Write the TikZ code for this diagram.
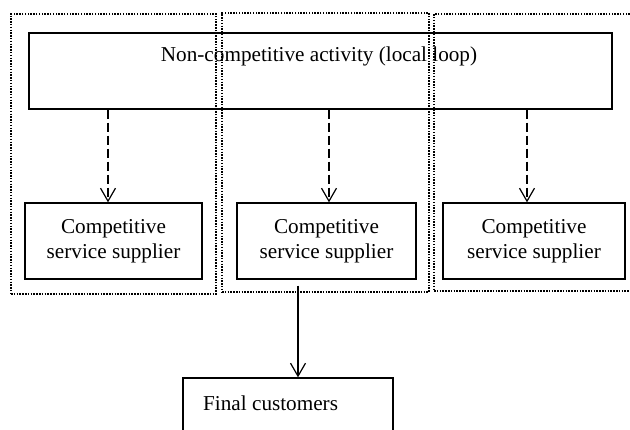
\documentclass[tikz,border=0pt]{standalone}
\usepackage{fontspec}
\setmainfont{Liberation Serif}
\usetikzlibrary{arrows.meta,calc}
\begin{document}
\begin{tikzpicture}[x=1pt,y=-1pt,
  font=\fontsize{21.2}{25}\selectfont,
  box/.style={draw=black,line width=1.3pt,fill=white,inner sep=0pt},
  txt/.style={inner sep=0pt,align=center},
  zone/.style={draw=black,line width=1.5pt,dash pattern=on 1.5pt off 1.3pt,inner sep=0pt},
  dasharrow/.style={line width=1.2pt,dash pattern=on 9pt off 4pt,-{Straight Barb[length=13pt,width=15pt,line width=1.2pt]}},
  solidarrow/.style={line width=1.2pt,-{Straight Barb[length=13pt,width=15pt,line width=1.2pt]}}]
\useasboundingbox (0,0) rectangle (630,430);
\clip (0,0) rectangle (630,430);
\fill[white] (0,0) rectangle (630,430);
% top box
\node[box,minimum width=583pt,minimum height=76pt] (loop) at (320.5,71) {};
\node[txt] (looptext) at (319,56) {Non-competitive activity (local loop)};
% competitive boxes
\node[box,minimum width=177pt,minimum height=76pt,txt,draw] (s1) at (113.5,241) {Competitive\\service supplier};
\node[box,minimum width=179pt,minimum height=76pt,txt,draw] (s2) at (326.5,241) {Competitive\\service supplier};
\node[box,minimum width=182pt,minimum height=76pt,txt,draw] (s3) at (534,241) {Competitive\\service supplier};
% final box
\node[box,minimum width=210pt,minimum height=80pt] (final) at (288,418) {};
\node[txt,anchor=west] (finaltext) at (203,403) {Final customers};
% arrows
\coordinate (c1) at (108,0);
\coordinate (c2) at (329,0);
\coordinate (c3) at (527,0);
\coordinate (c4) at (298,0);
\draw[dasharrow] (loop.south -| c1) -- (s1.north -| c1);
\draw[dasharrow] (loop.south -| c2) -- (s2.north -| c2);
\draw[dasharrow] (loop.south -| c3) -- (s3.north -| c3);
\draw[solidarrow] ($(s2.south -| c4)+(0,6)$) -- (final.north -| c4);
% dotted zones
\node[zone,minimum width=205pt,minimum height=280pt] (z1) at (113.5,154) {};
\node[zone,minimum width=207pt,minimum height=279pt] (z2) at (325.5,152.5) {};
\node[zone,minimum width=210pt,minimum height=277pt] (z3) at (539,152.5) {};
\end{tikzpicture}
\end{document}
